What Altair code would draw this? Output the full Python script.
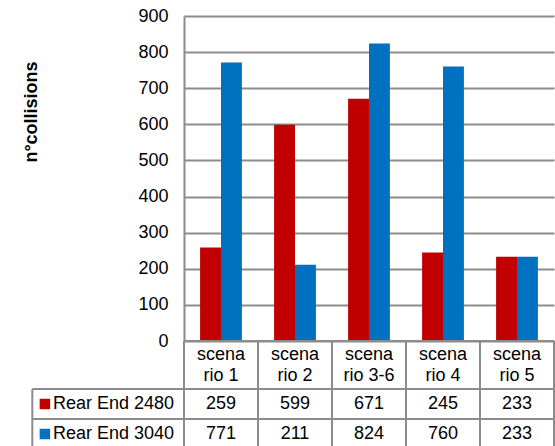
import altair as alt
import pandas as pd

# Scenario labels (wrapped as they appear in the table header)
categories = ["scena\nrio 1", "scena\nrio 2", "scena\nrio 3-6", "scena\nrio 4", "scena\nrio 5"]
series_names = ["Rear End 2480", "Rear End 3040"]
rear_end_2480 = [259, 599, 671, 245, 233]
rear_end_3040 = [771, 211, 824, 760, 233]
series_colors = ["#C00000", "#0070C0"]
y_ticks = [0, 100, 200, 300, 400, 500, 600, 700, 800, 900]

FONT = "Liberation Sans"
LINE = "#8c8c8c"
PLOT_W = 370
PLOT_H = 325
HEADER_H = 48
ROW_H = 30
LAST_VISIBLE_H = 27
LINE_HEIGHT = 21

# table geometry in column units (one unit = one scenario column)
N = len(categories)
LEGEND_LEFT = -2.05
SWATCH_X = -1.88
LABEL_X = -1.77

color_scale = alt.Scale(domain=series_names, range=series_colors)

bars_df = pd.DataFrame({
    "scenario": categories * 2,
    "series": [series_names[0]] * N + [series_names[1]] * N,
    "collisions": rear_end_2480 + rear_end_3040,
})

bars = alt.Chart(bars_df).mark_bar().encode(
    x=alt.X("scenario:N", sort=categories, axis=None,
            scale=alt.Scale(paddingInner=0, paddingOuter=0)),
    xOffset=alt.XOffset("series:N", sort=series_names,
                        scale=alt.Scale(paddingInner=0, paddingOuter=0.77)),
    y=alt.Y("collisions:Q",
            scale=alt.Scale(domain=[0, 900], nice=False),
            axis=alt.Axis(values=y_ticks, title="n°collisions",
                          grid=True, gridColor=LINE, gridWidth=2,
                          domain=True, domainColor=LINE, domainWidth=2,
                          ticks=False, labelPadding=16,
                          labelFont=FONT, labelFontSize=18, labelColor="#000000",
                          titleFont=FONT, titleFontSize=18, titleFontWeight="bold",
                          titleColor="#000000", titleAngle=270,
                          titleX=-152.5, titleY=95.5,
                          titleAlign="center", titleBaseline="middle")),
    color=alt.Color("series:N", scale=color_scale, legend=None),
).properties(width=PLOT_W, height=PLOT_H)

x_table = alt.Scale(domain=[0, N], nice=False, zero=False)
col_pos = [i + 0.5 for i in range(N)]
edges = list(range(N + 1))


def row_chart(height, y_min, left_edge, cells, legend=None, lines=1):
    """One table row: borders, centred cell texts and an optional legend cell."""
    y_scale = alt.Scale(domain=[y_min, 1], nice=False, zero=False)
    xs = ([left_edge] if legend is not None else []) + edges
    vlines = alt.Chart(pd.DataFrame({"e": xs})).mark_rule(
        color=LINE, strokeWidth=2
    ).encode(
        x=alt.X("e:Q", scale=x_table, axis=None),
        y=alt.datum(y_min, scale=y_scale, axis=None),
        y2=alt.datum(1),
    )
    hline = alt.Chart(pd.DataFrame({"a": [left_edge], "b": [N]})).mark_rule(
        color=LINE, strokeWidth=2
    ).encode(
        x=alt.X("a:Q", scale=x_table, axis=None),
        x2="b:Q",
        y=alt.datum(1, scale=y_scale, axis=None),
    )
    # shift wrapped text up so the block of lines is centred in the cell
    texts = alt.Chart(pd.DataFrame({"pos": col_pos, "label": cells})).mark_text(
        font=FONT, fontSize=18, color="#000000", lineBreak="\n", lineHeight=LINE_HEIGHT,
        align="center", baseline="middle", dy=-(lines - 1) * LINE_HEIGHT / 2
    ).encode(
        x=alt.X("pos:Q", scale=x_table, axis=None),
        y=alt.datum(0.5, scale=y_scale, axis=None),
        text="label:N",
    )
    layers = [vlines, hline, texts]
    if legend is not None:
        leg_df = pd.DataFrame({"sx": [SWATCH_X], "lx": [LABEL_X], "series": [legend]})
        swatch = alt.Chart(leg_df).mark_square(size=110, opacity=1).encode(
            x=alt.X("sx:Q", scale=x_table, axis=None),
            y=alt.datum(0.5, scale=y_scale, axis=None),
            color=alt.Color("series:N", scale=color_scale, legend=None),
        )
        label = alt.Chart(leg_df).mark_text(
            font=FONT, fontSize=18, color="#000000", align="left", baseline="middle"
        ).encode(
            x=alt.X("lx:Q", scale=x_table, axis=None),
            y=alt.datum(0.5, scale=y_scale, axis=None),
            text="series:N",
        )
        layers += [swatch, label]
    return alt.layer(*layers).properties(width=PLOT_W, height=height)


header = row_chart(HEADER_H, 0, 0, categories, lines=2)
row_a = row_chart(ROW_H, 0, LEGEND_LEFT, [str(v) for v in rear_end_2480], series_names[0])
row_b = row_chart(LAST_VISIBLE_H, 1 - LAST_VISIBLE_H / ROW_H, LEGEND_LEFT,
                  [str(v) for v in rear_end_3040], series_names[1])

chart = alt.vconcat(bars, header, row_a, row_b, spacing=0, bounds="flush").properties(
    padding={"left": 22, "top": 7, "right": 0, "bottom": 0},
    background="white",
).configure_view(stroke=None)

chart.save("out.html", embed_options={"renderer": "svg", "actions": False})
